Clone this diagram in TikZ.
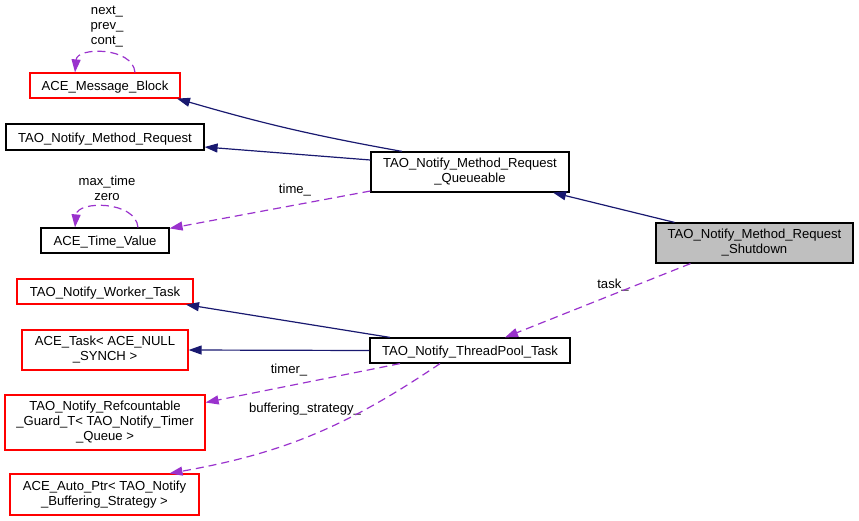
\documentclass[tikz,border=0pt]{standalone}
\usepackage{fontspec}
\setmainfont{Liberation Sans}
\usetikzlibrary{arrows.meta}
\definecolor{navy}{HTML}{191970}
\definecolor{purp}{HTML}{9A32CD}
\definecolor{boxred}{HTML}{FF0000}
\definecolor{fillgray}{HTML}{BFBFBF}
\begin{document}
\begin{tikzpicture}[x=1pt,y=-1pt,
  every node/.style={font=\fontsize{13.1}{15}\selectfont, inner sep=0pt},
  cls/.style={draw=black, line width=1.2pt, rectangle, align=center, fill=white},
  redcls/.style={cls, draw=boxred},
  oneline/.style={text height=11pt, text depth=1pt},
  inh/.style={draw=navy, line width=1.2pt, -{Triangle[length=13pt,width=9pt]}},
  use/.style={draw=purp, line width=1.2pt, dash pattern=on 8pt off 5pt, -{Triangle[length=13pt,width=9pt]}},
  lab/.style={align=center}]
\useasboundingbox (0,0) rectangle (859,520);
% nodes
\node[redcls, oneline, minimum width=150pt, minimum height=25pt] (mb) at (105,85.5) {ACE\_Message\_Block};
\node[cls, oneline, minimum width=198pt, minimum height=26pt] (mr) at (105,137) {TAO\_Notify\_Method\_Request};
\node[cls, oneline, minimum width=128pt, minimum height=25pt] (tv) at (105,240.5) {ACE\_Time\_Value};
\node[cls, minimum width=198pt, minimum height=40pt] (q) at (470,172) {TAO\_Notify\_Method\_Request\\\_Queueable};
\node[cls, oneline, minimum width=200pt, minimum height=25pt] (tp) at (470,350.5) {TAO\_Notify\_ThreadPool\_Task};
\node[cls, fill=fillgray, minimum width=197pt, minimum height=40pt] (sd) at (754.5,243) {TAO\_Notify\_Method\_Request\\\_Shutdown};
\node[redcls, oneline, minimum width=176pt, minimum height=25pt] (wt) at (105,291.5) {TAO\_Notify\_Worker\_Task};
\node[redcls, minimum width=166pt, minimum height=40pt] (at) at (105,350) {ACE\_Task< ACE\_NULL\\\_SYNCH >};
\node[redcls, minimum width=200pt, minimum height=55pt] (rc) at (105,422.5) {TAO\_Notify\_Refcountable\\\_Guard\_T< TAO\_Notify\_Timer\\\_Queue >};
\node[redcls, minimum width=189pt, minimum height=41pt] (ap) at (104.5,494.5) {ACE\_Auto\_Ptr< TAO\_Notify\\\_Buffering\_Strategy >};
% labels
\node[lab] (l1) at (107,27) {next\_\\prev\_\\cont\_};
\node[lab] (l2) at (107,188) {max\_time\\zero};
\node[oneline] (l3) at (295,188) {time\_};
\node[oneline] (l4) at (613,283) {task\_};
\node[oneline] (l5) at (289,368) {timer\_};
\node[oneline] (l6) at (305,407) {buffering\_strategy\_};
% edges
\draw[inh] ([xshift=-68pt]q.north) to[bend left=3] ([xshift=72pt]mb.south);
\draw[inh] ([yshift=12pt]q.west) -- ([yshift=-10pt]mr.east);
\draw[use] ([yshift=-19pt]q.west) -- ([yshift=-1pt]tv.north east);
\draw[inh] ([xshift=-80pt]sd.north) -- ([xshift=83pt]q.south);
\draw[use] ([xshift=-64pt]sd.south) -- ([xshift=35pt]tp.north);
\draw[inh] ([xshift=-80pt]tp.north) -- ([xshift=81pt]wt.south);
\draw[inh] (tp.west) -- (at.east);
\draw[use] ([xshift=-70pt]tp.south) -- ([yshift=20pt]rc.east);
\draw[use] ([xshift=-30pt]tp.south) to[bend left=12] ([xshift=65pt]ap.north);
\draw[use] ([xshift=30pt]mb.north) to[out=95,in=85,looseness=1.1] ([xshift=-30pt]mb.north);
\draw[use] ([xshift=33pt]tv.north) to[out=95,in=85,looseness=1.1] ([xshift=-30pt]tv.north);
\end{tikzpicture}
\end{document}
